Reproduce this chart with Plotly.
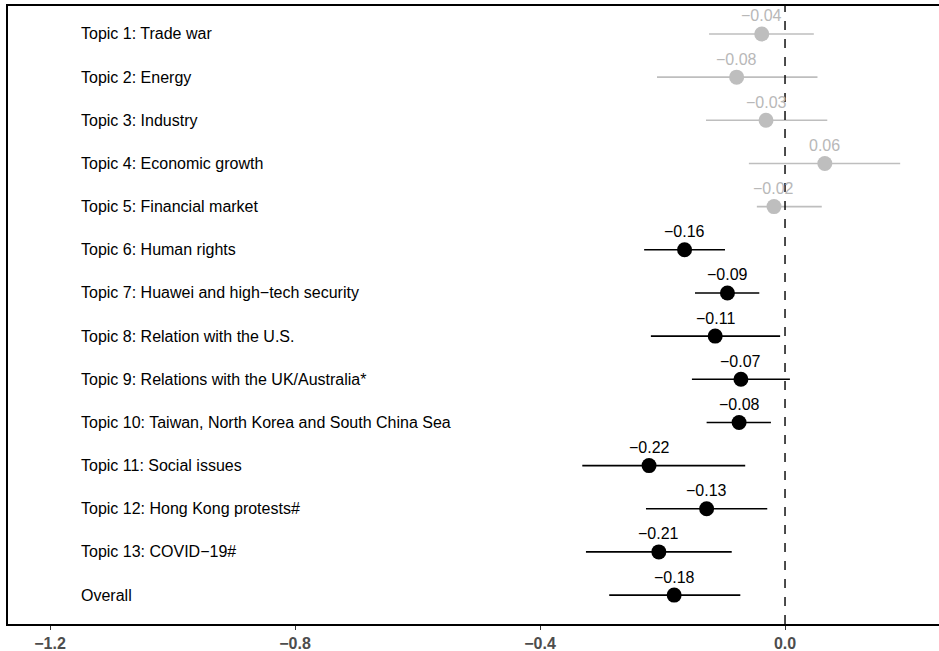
import plotly.graph_objects as go

topics = [
    "Topic 1: Trade war",
    "Topic 2: Energy",
    "Topic 3: Industry",
    "Topic 4: Economic growth",
    "Topic 5: Financial market",
    "Topic 6: Human rights",
    "Topic 7: Huawei and high\u2212tech security",
    "Topic 8: Relation with the U.S.",
    "Topic 9: Relations with the UK/Australia*",
    "Topic 10: Taiwan, North Korea and South China Sea",
    "Topic 11: Social issues",
    "Topic 12: Hong Kong protests#",
    "Topic 13: COVID\u221219#",
    "Overall",
]
estimates = [-0.038, -0.079, -0.031, 0.065, -0.018, -0.164, -0.094, -0.114,
             -0.072, -0.075, -0.222, -0.128, -0.206, -0.181]
ci_low = [-0.124, -0.209, -0.129, -0.059, -0.046, -0.230, -0.147, -0.219,
          -0.152, -0.128, -0.331, -0.227, -0.325, -0.287]
ci_high = [0.047, 0.053, 0.069, 0.188, 0.060, -0.098, -0.042, -0.008,
           0.008, -0.023, -0.065, -0.029, -0.087, -0.073]
est_labels = ["\u22120.04", "\u22120.08", "\u22120.03", "0.06", "\u22120.02",
              "\u22120.16", "\u22120.09", "\u22120.11", "\u22120.07", "\u22120.08",
              "\u22120.22", "\u22120.13", "\u22120.21", "\u22120.18"]
significant = [False] * 5 + [True] * 9
tick_vals = [-1.2, -0.8, -0.4, 0.0]
tick_text = ["\u22121.2", "\u22120.8", "\u22120.4", "0.0"]

rows = list(range(1, len(topics) + 1))
GREY = "#bebebe"
FONT = "Liberation Sans, Arial, Helvetica, sans-serif"

fig = go.Figure()

for i, r in enumerate(rows):
    col = "black" if significant[i] else GREY
    fig.add_trace(go.Scatter(
        x=[ci_low[i], ci_high[i]], y=[r, r], mode="lines",
        line=dict(color=col, width=1.6), showlegend=False, hoverinfo="skip"))
    fig.add_trace(go.Scatter(
        x=[estimates[i]], y=[r], mode="markers",
        marker=dict(color=col, size=15, line=dict(width=0)), showlegend=False))
    fig.add_annotation(x=estimates[i], y=r, text=est_labels[i], showarrow=False,
                       yshift=18, font=dict(family=FONT, size=16,
                                            color="black" if significant[i] else "#b8b8b8"))
    fig.add_annotation(x=-1.152, y=r, text=topics[i], showarrow=False,
                       xanchor="left", font=dict(family=FONT, size=16, color="black"))

fig.add_shape(type="line", x0=0, x1=0, y0=0, y1=1, yref="paper", xref="x",
              line=dict(color="black", width=1.4, dash="dash"))

xr0 = -1.2686
xr1 = 0.2514
fig.update_layout(
    width=939, height=651,
    margin=dict(l=8, r=0, t=6, b=27),
    plot_bgcolor="white", paper_bgcolor="white",
    xaxis=dict(range=[xr0, xr1], tickvals=tick_vals, ticktext=tick_text,
               showgrid=False, zeroline=False, showline=True, mirror=True,
               linecolor="black", linewidth=2, ticks="outside", ticklen=4,
               tickcolor="#333333", tickwidth=1,
               tickfont=dict(family=FONT, size=16, color="#4d4d4d", weight="bold")),
    yaxis=dict(range=[14.67, 0.352], showgrid=False, zeroline=False,
               showticklabels=False, showline=True, linecolor="black", linewidth=2,
               ticks=""),
)

fig.write_html("out.html", config={"displayModeBar": False},
               post_script="document.body.style.margin='0px';document.body.style.overflow='hidden';")
